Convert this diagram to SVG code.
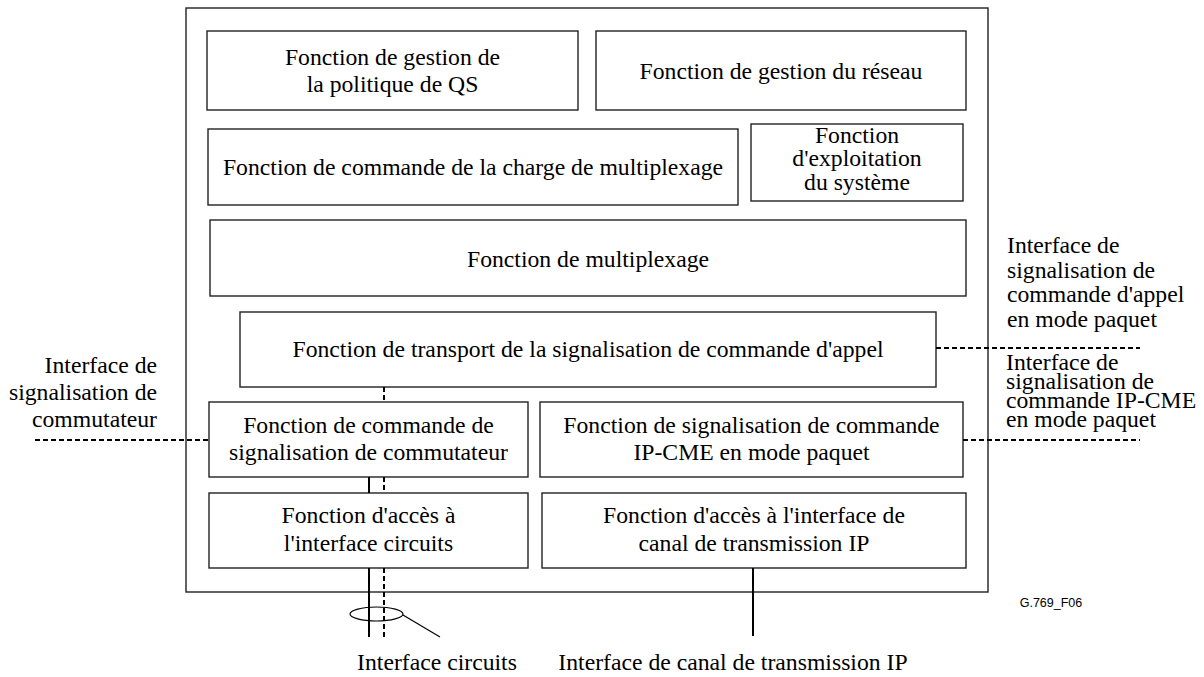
<svg xmlns="http://www.w3.org/2000/svg" width="1204" height="677" viewBox="0 0 1204 677">
<style>
.box{fill:#fff;stroke:#222;stroke-width:1.4}
.t{font-family:'Liberation Serif','DejaVu Serif','Times New Roman',Times,serif;font-size:23.7px;fill:#000;text-anchor:middle}
.l{font-family:'Liberation Serif','DejaVu Serif','Times New Roman',Times,serif;font-size:23.7px;fill:#000}
.s{font-family:'Liberation Sans',Arial,sans-serif;font-size:12.5px;fill:#000;text-anchor:middle}
.sol{stroke:#000;stroke-width:2;fill:none}
.dash{stroke:#000;stroke-width:2;fill:none;stroke-dasharray:5,3}
.thin{stroke:#000;stroke-width:1.2;fill:none}
</style>
<rect width="1204" height="677" fill="#fff"/>
<rect id="outer" class="box" x="186" y="8" width="802" height="584"/>
<g id="n1"><rect class="box" x="207" y="31" width="371" height="79"/>
<text class="t" x="392.5" y="65">Fonction de gestion de</text><text class="t" x="392.5" y="92">la politique de QS</text></g>
<g id="n2"><rect class="box" x="596" y="31" width="370" height="79"/>
<text class="t" x="781" y="79">Fonction de gestion du réseau</text></g>
<g id="n3"><rect class="box" x="208" y="129" width="530" height="76"/>
<text class="t" x="473" y="175">Fonction de commande de la charge de multiplexage</text></g>
<g id="n4"><rect class="box" x="751" y="124" width="212" height="77"/>
<text class="t" x="857" y="143">Fonction</text><text class="t" x="857" y="166">d'exploitation</text><text class="t" x="857" y="190">du système</text></g>
<g id="n5"><rect class="box" x="210" y="220" width="756" height="76"/>
<text class="t" x="588" y="267">Fonction de multiplexage</text></g>
<g id="n6"><rect class="box" x="240" y="312" width="696" height="75"/>
<text class="t" x="588" y="357">Fonction de transport de la signalisation de commande d'appel</text></g>
<g id="n7"><rect class="box" x="209" y="402" width="319" height="75"/>
<text class="t" x="368.5" y="433">Fonction de commande de</text><text class="t" x="368.5" y="460">signalisation de commutateur</text></g>
<g id="n8"><rect class="box" x="540" y="402" width="423" height="75"/>
<text class="t" x="751.5" y="433">Fonction de signalisation de commande</text><text class="t" x="751.5" y="460">IP-CME en mode paquet</text></g>
<g id="n9"><rect class="box" x="209" y="493" width="319" height="75"/>
<text class="t" x="368.5" y="523">Fonction d'accès à</text><text class="t" x="368.5" y="551">l'interface circuits</text></g>
<g id="n10"><rect class="box" x="542" y="493" width="424" height="75"/>
<text class="t" x="754" y="523">Fonction d'accès à l'interface de</text><text class="t" x="754" y="551">canal de transmission IP</text></g>
<g id="connectors">
<line class="dash" x1="384" y1="387" x2="384" y2="402"/>
<line class="sol" x1="369" y1="477" x2="369" y2="493"/>
<line class="dash" x1="384" y1="477" x2="384" y2="493"/>
<line class="sol" x1="369" y1="568" x2="369" y2="637"/>
<line class="dash" x1="384" y1="568" x2="384" y2="637"/>
<ellipse class="thin" cx="376.5" cy="614" rx="26.5" ry="7"/>
<line class="thin" x1="403" y1="615" x2="440" y2="637"/>
<line class="dash" x1="35" y1="440" x2="209" y2="440"/>
<line class="dash" x1="936" y1="348" x2="1140" y2="348"/>
<line class="dash" x1="963" y1="440" x2="1140" y2="440"/>
<line class="sol" x1="753" y1="568" x2="753" y2="636"/>
</g>
<g id="labels">
<text class="l" x="157" y="373" text-anchor="end">Interface de</text>
<text class="l" x="157" y="400" text-anchor="end">signalisation de</text>
<text class="l" x="157" y="427" text-anchor="end">commutateur</text>
<text class="l" x="1007" y="253">Interface de</text>
<text class="l" x="1007" y="278">signalisation de</text>
<text class="l" x="1007" y="302">commande d'appel</text>
<text class="l" x="1007" y="327">en mode paquet</text>
<text class="l" x="1006" y="370">Interface de</text>
<text class="l" x="1006" y="389">signalisation de</text>
<text class="l" x="1006" y="408">commande IP-CME</text>
<text class="l" x="1006" y="427">en mode paquet</text>
<text class="t" x="437" y="670">Interface circuits</text>
<text class="t" x="733" y="670">Interface de canal de transmission IP</text>
<text class="s" x="1051" y="607">G.769_F06</text>
</g>
</svg>
